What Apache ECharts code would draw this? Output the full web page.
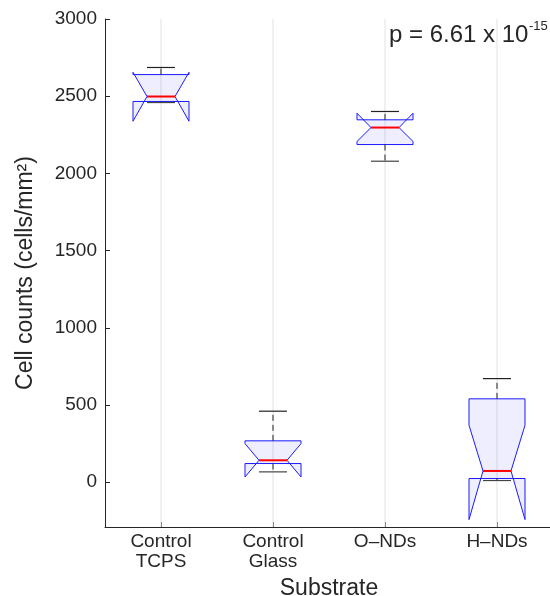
<!DOCTYPE html>
<html>
<head>
<meta charset="utf-8">
<script src="https://cdn.jsdelivr.net/npm/echarts@6/dist/echarts.min.js"></script>
<style>html,body{margin:0;padding:0;background:#fff;}#c{width:550px;height:596px;}</style>
</head>
<body>
<div id="c"></div>
<script>
const categories = ['Control\nTCPS', 'Control\nGlass', 'O\u2013NDs', 'H\u2013NDs'];
const positions = [1, 2, 3, 4];
const lowerWhisker = [2459, 67, 2079, 11];
const q1 = [2466, 121, 2187, 24];
const median = [2498, 142, 2297, 73];
const q3 = [2640, 268, 2347, 540];
const upperWhisker = [2686, 460, 2401, 671];
const notchLow = [2338, 34, 2207, -242];
const notchHigh = [2655, 250, 2390, 369];
const yTicks = [0, 500, 1000, 1500, 2000, 2500, 3000];
const yMin = -290, yMax = 3000;
const xMin = 0.5, xMax = 4.5;

const FONT = '"Liberation Sans", Arial, Helvetica, sans-serif';
const TXT = '#262626';

const data = categories.map((c, i) => [positions[i], lowerWhisker[i], q1[i], median[i], q3[i], upperWhisker[i], notchLow[i], notchHigh[i]]);

function renderItem(params, api) {
  const p = api.value(0);
  const unit = api.size([1, 0])[0];
  const w = unit * 0.25, hw = w / 2;
  const cx = api.coord([p, 0])[0];
  const y = v => api.coord([p, v])[1];
  const lw = api.value(1), a = api.value(2), m = api.value(3), b = api.value(4),
        uw = api.value(5), nl = api.value(6), nh = api.value(7);
  const pts = [
    [cx - w, y(a)], [cx - w, y(nl)], [cx - hw, y(m)], [cx - w, y(nh)], [cx - w, y(b)],
    [cx + w, y(b)], [cx + w, y(nh)], [cx + hw, y(m)], [cx + w, y(nl)], [cx + w, y(a)]
  ];
  const dash = [6, 4];
  return {
    type: 'group',
    children: [
      { type: 'line', shape: { x1: cx, y1: y(yMax), x2: cx, y2: y(yMin) },
        style: { stroke: '#e2e2e2', lineWidth: 1 } },
      { type: 'polygon', shape: { points: pts },
        style: { fill: 'rgba(0,0,255,0.065)', stroke: '#1a1aff', lineWidth: 1 } },
      { type: 'line', shape: { x1: cx, y1: y(b), x2: cx, y2: y(uw) },
        style: { stroke: '#222', lineWidth: 1, lineDash: dash } },
      { type: 'line', shape: { x1: cx, y1: y(a), x2: cx, y2: y(lw) },
        style: { stroke: '#222', lineWidth: 1, lineDash: dash } },
      { type: 'line', shape: { x1: cx - hw, y1: y(uw), x2: cx + hw, y2: y(uw) },
        style: { stroke: '#222', lineWidth: 1.2 } },
      { type: 'line', shape: { x1: cx - hw, y1: y(lw), x2: cx + hw, y2: y(lw) },
        style: { stroke: '#444', lineWidth: 1.2 } },
      { type: 'line', shape: { x1: cx - hw, y1: y(m), x2: cx + hw, y2: y(m) },
        style: { stroke: '#ff0000', lineWidth: 2 } }
    ]
  };
}

// measure main p-value text so the exponent sits right after it
const pMain = 'p = 6.61 x 10';
const pSup = '-15';
const pSize = 24;
const mctx = document.createElement('canvas').getContext('2d');
mctx.font = pSize + 'px ' + FONT;
const pX = 389;
const pW = mctx.measureText(pMain).width;

const chart = echarts.init(document.getElementById('c'), null, { renderer: 'canvas' });
chart.setOption({
  animation: false,
  backgroundColor: '#fff',
  textStyle: { fontFamily: FONT },
  grid: { left: 105, top: 19, width: 448, height: 508, containLabel: false, outerBoundsMode: 'none' },
  xAxis: {
    type: 'value',
    min: xMin,
    max: xMax,
    name: 'Substrate',
    nameLocation: 'middle',
    nameGap: 46,
    nameTextStyle: { fontSize: 23, color: TXT, fontFamily: FONT },
    axisLine: { show: true, onZero: false, lineStyle: { color: TXT, width: 1 } },
    axisTick: { show: true, inside: true, length: 5, customValues: positions, lineStyle: { color: TXT } },
    axisLabel: { fontSize: 19, color: TXT, fontFamily: FONT, margin: 5, lineHeight: 20,
                 customValues: positions, formatter: v => categories[positions.indexOf(v)] || '' },
    splitLine: { show: false }
  },
  yAxis: {
    type: 'value',
    min: yMin,
    max: yMax,
    name: 'Cell counts (cells/mm\u00b2)',
    nameLocation: 'middle',
    nameGap: 68,
    nameTextStyle: { fontSize: 23, color: TXT, fontFamily: FONT },
    axisLine: { show: true, onZero: false, lineStyle: { color: TXT, width: 1 } },
    axisTick: { show: true, inside: true, length: 5, customValues: yTicks, lineStyle: { color: TXT } },
    axisLabel: { fontSize: 19, color: TXT, fontFamily: FONT, margin: 8, customValues: yTicks,
                 formatter: v => String(v) },
    splitLine: { show: false }
  },
  series: [{
    type: 'custom',
    renderItem: renderItem,
    data: data,
    encode: { x: 0, y: [1, 2, 3, 4, 5, 6, 7] },
    clip: false
  }],
  graphic: [
    { type: 'text', x: pX, y: 35, z: 100,
      style: { text: pMain, fontSize: pSize, fontFamily: FONT, fill: TXT, align: 'left', verticalAlign: 'middle' } },
    { type: 'text', x: pX + pW + 0.5, y: 26, z: 100,
      style: { text: pSup, fontSize: 13, fontFamily: FONT, fill: TXT, align: 'left', verticalAlign: 'middle' } }
  ]
});
</script>
</body>
</html>
